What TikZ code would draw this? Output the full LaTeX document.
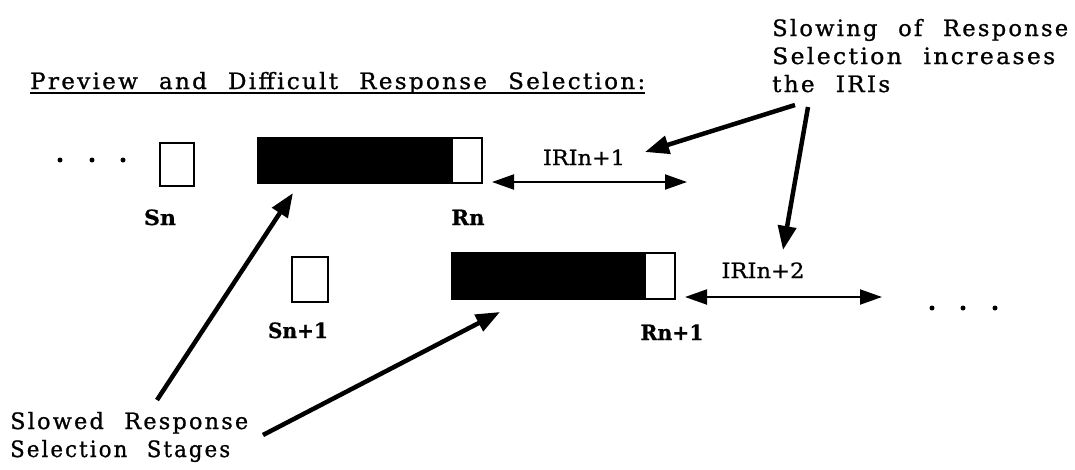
\documentclass[tikz,border=0pt]{standalone}
\usepackage{fontspec}
\usepackage{graphicx}
\setmainfont{DejaVu Serif}
\newfontfamily\widetype[LetterSpace=10,WordSpace=2.2,FakeBold=1]{DejaVu Serif}
\newfontfamily\labeltype[FakeBold=0.6]{DejaVu Serif}
\usetikzlibrary{arrows.meta}
% set a text line to a given width, keeping its height
\newcommand{\fitto}[2]{\resizebox{#1}{\height}{#2}}
\begin{document}
\begin{tikzpicture}[x=1pt,y=-1pt,
  txt/.style={inner sep=0pt, anchor=base west, font=\widetype\fontsize{22.5}{26}\selectfont},
  lbl/.style={inner sep=0pt, anchor=base, font=\labeltype\bfseries\fontsize{21}{24}\selectfont},
  iri/.style={inner sep=0pt, anchor=base, font=\labeltype\fontsize{21}{24}\selectfont},
  frame/.style={draw=black, line width=2.5pt, inner sep=0pt, outer sep=0pt},
  pointer/.style={line width=4.5pt, -{Triangle[length=24pt,width=18pt]}},
  span/.style={line width=2pt, {Triangle[length=22pt,width=15pt]}-{Triangle[length=22pt,width=15pt]}},
  dot/.style={circle, fill=black, inner sep=0pt, minimum size=5pt}]

\useasboundingbox (0,0) rectangle (1075,469);

% heading
\node[txt] (title) at (30,89) {\fitto{615pt}{Preview and Difficult Response Selection:}};
\draw[line width=1.5pt] ([yshift=-4pt]title.base west) -- ([yshift=-4pt]title.base east);

% side notes
\node[txt] (note1) at (772,36) {\fitto{296pt}{Slowing of Response}};
\node[txt] (note2) at (772,64) {\fitto{283pt}{Selection increases}};
\node[txt] (note3) at (772,92) {\fitto{118pt}{the IRIs}};
\node[txt] (slow1) at (10,429) {\fitto{238pt}{Slowed Response}};
\node[txt] (slow2) at (10,457) {\fitto{220pt}{Selection Stages}};

% trial n
\node[dot] (d1) at (60,160) {};
\node[dot] (d2) at (92,160) {};
\node[dot] (d3) at (123,160) {};
\node[frame, anchor=north west, minimum width=34pt, minimum height=43pt] (sn) at (160,143) {};
\node[frame, fill=black, anchor=north west, minimum width=224pt, minimum height=45pt] (rn) at (258,138) {};
\node[frame, fill=white, anchor=north east, minimum width=30pt, minimum height=45pt] (rnend) at (rn.north east) {};
\node[lbl] (snlab) at (160,225) {\fitto{32pt}{Sn}};
\node[lbl] (rnlab) at (468,225) {\fitto{33pt}{Rn}};
\node[iri] (iri1) at (584,165) {\fitto{82pt}{IRIn+1}};
\coordinate (iri1l) at (492,182);
\coordinate (iri1r) at (687,182);
\draw[span] (iri1l) -- (iri1r);

% trial n+1
\node[frame, anchor=north west, minimum width=36pt, minimum height=45pt] (sn1) at (292,257) {};
\node[frame, fill=black, anchor=north west, minimum width=223pt, minimum height=46pt] (rn1) at (452,253) {};
\node[frame, fill=white, anchor=north east, minimum width=30pt, minimum height=46pt] (rn1end) at (rn1.north east) {};
\node[lbl] (sn1lab) at (298,338) {\fitto{60pt}{Sn+1}};
\node[lbl] (rn1lab) at (672,340) {\fitto{63pt}{Rn+1}};
\node[iri] (iri2) at (763,278) {\fitto{83pt}{IRIn+2}};
\coordinate (iri2l) at (685,297);
\coordinate (iri2r) at (882,297);
\draw[span] (iri2l) -- (iri2r);
\node[dot] (e1) at (932,308) {};
\node[dot] (e2) at (963,308) {};
\node[dot] (e3) at (995,308) {};

% pointers from the notes
\coordinate (tA) at (795,105);
\coordinate (tB) at (808,107);
\coordinate (hA) at (645,152);
\coordinate (hB) at (783,250);
\draw[pointer] (tA) -- (hA);
\draw[pointer] (tB) -- (hB);
\coordinate (tC) at (157,400);
\coordinate (hC) at (293,193);
\coordinate (tD) at (263,435);
\coordinate (hD) at (500,312);
\draw[pointer] (tC) -- (hC);
\draw[pointer] (tD) -- (hD);
\end{tikzpicture}
\end{document}
